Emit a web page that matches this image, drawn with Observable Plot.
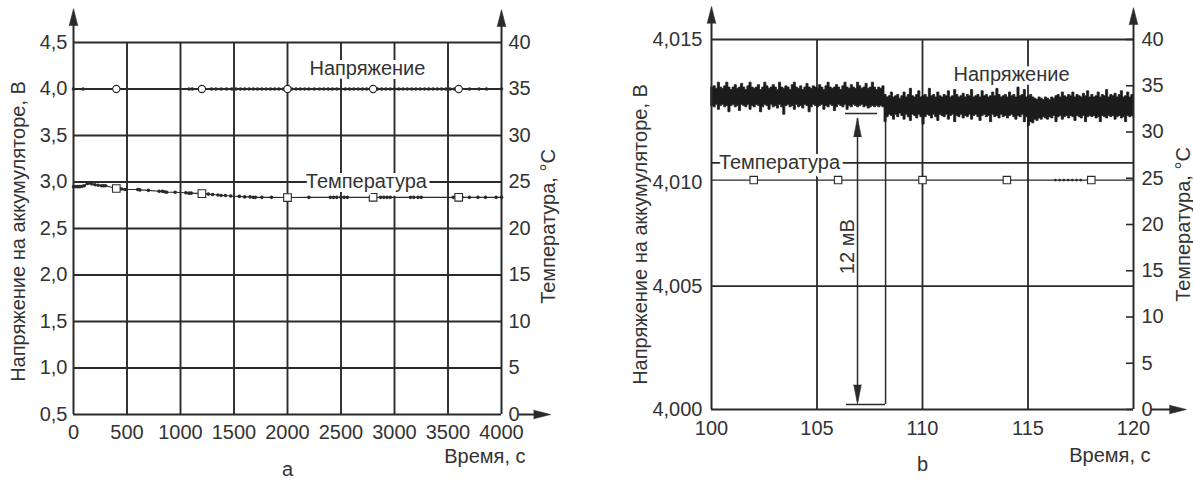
<!DOCTYPE html>
<html><head><meta charset="utf-8">
<script src="https://cdn.jsdelivr.net/npm/d3@7"></script>
<script src="https://cdn.jsdelivr.net/npm/@observablehq/plot@0.6"></script>
<style>
html,body{margin:0;padding:0;background:#fff;}
#wrap{position:relative;width:1193px;height:482px;overflow:hidden;background:#fff;}
#pa{position:absolute;left:0;top:0;}
#pb{position:absolute;left:600px;top:0;}
</style></head>
<body><div id="wrap"><div id="pa"></div><div id="pb"></div></div>
<script>
const INK = "#2a2a2a";
const TXT = "#333";
const FONT = "'Liberation Sans', Arial, Helvetica, sans-serif";

// ================= Panel a =================
const aTimeTicks = [0, 500, 1000, 1500, 2000, 2500, 3000, 3500, 4000];
const aVoltTicks = [0.5, 1.0, 1.5, 2.0, 2.5, 3.0, 3.5, 4.0, 4.5];
const aTempTicks = [0, 5, 10, 15, 20, 25, 30, 35, 40];
// [time s, voltage V]
const aVoltage = [[0,4.0],[90,4.0],[400,4.0],[1080,4.0],[1110,4.0],[1200,4.0],[1290,4.0],[1330,4.0],[1380,4.0],[1430,4.0],
  [1480,4.0],[1520,4.0],[1560,4.0],[1600,4.0],[1640,4.0],[1680,4.0],[1720,4.0],[1760,4.0],[1800,4.0],[1840,4.0],
  [1880,4.0],[1920,4.0],[1960,4.0],[1990,4.0],[2000,4.0],[2010,4.0],[2040,4.0],[2080,4.0],[2120,4.0],[2160,4.0],[2200,4.0],
  [2250,4.0],[2300,4.0],[2340,4.0],[2380,4.0],[2420,4.0],[2460,4.0],[2500,4.0],[2540,4.0],[2580,4.0],[2620,4.0],
  [2660,4.0],[2700,4.0],[2740,4.0],[2780,4.0],[2800,4.0],[2840,4.0],[2880,4.0],[2920,4.0],[2960,4.0],[3000,4.0],
  [3040,4.0],[3080,4.0],[3120,4.0],[3160,4.0],[3200,4.0],[3240,4.0],[3280,4.0],[3320,4.0],[3360,4.0],[3400,4.0],
  [3440,4.0],[3480,4.0],[3520,4.0],[3560,4.0],[3600,4.0],[3700,4.0],[3790,4.0],[3860,4.0],[4000,4.0]];
const aVoltMarkTime = [400, 1200, 2000, 2800, 3600];
const aVoltMark = [4.0, 4.0, 4.0, 4.0, 4.0];
// [time s, temperature °C]
const aTemperature = [[0,24.5],[20,24.5],[40,24.5],[60,24.5],[80,24.55],[100,24.6],[130,24.85],[150,24.9],[170,24.8],
  [200,24.7],[230,24.65],[260,24.6],[280,24.6],[300,24.6],[400,24.3],[430,24.3],[450,24.25],[480,24.2],[600,24.2],
  [620,24.15],[700,24.1],[800,24.0],[830,24.0],[850,23.95],[870,23.9],[950,23.9],[1050,23.85],[1080,23.8],[1100,23.8],
  [1200,23.75],[1260,23.7],[1300,23.65],[1350,23.6],[1380,23.55],[1420,23.55],[1470,23.5],[1550,23.45],[1600,23.4],
  [1650,23.4],[1680,23.35],[1700,23.35],[1760,23.35],[1850,23.35],[2000,23.33],[2200,23.35],[2400,23.35],[2430,23.35],
  [2460,23.35],[2500,23.35],[2530,23.35],[2560,23.35],[2800,23.35],[2870,23.35],[2900,23.35],[2930,23.35],[2960,23.35],
  [3150,23.35],[3180,23.35],[3220,23.35],[3250,23.35],[3550,23.35],[3580,23.35],[3600,23.35],[3630,23.35],[3700,23.35],
  [3780,23.35],[3850,23.35],[3950,23.35],[4000,23.35]];
const aTempMarkTime = [400, 1200, 2000, 2800, 3600];
const aTempMark = [24.3, 23.75, 23.33, 23.35, 23.35];
const aT2V = t => 0.5 + t * 0.1;             // right (°C) axis onto left (V) axis
const aV2T = v => Math.round((v - 0.5) * 10);

const vFmt1 = d => d.toFixed(1).replace(".", ",");

const aVoltRows = aVoltage.map(([t, v]) => ({t, v}));
const aTempRows = aTemperature.map(([t, c]) => ({t, v: aT2V(c)}));
const aVoltMarks = aVoltMarkTime.map((t, i) => ({t, v: aVoltMark[i]}));
const aTempMarks = aTempMarkTime.map((t, i) => ({t, v: aT2V(aTempMark[i])}));

const spike = {x: "x", y: "y", rotate: "rot", length: 17, r: 4.3, shape: "spike", anchor: "start",
  fill: INK, fillOpacity: 1, stroke: INK, strokeWidth: 0.6};
const halo = {stroke: "white", strokeWidth: 8, fill: TXT};
const title = {text: d => d, fill: TXT, textAnchor: "middle", lineAnchor: "middle"};

const plotA = Plot.plot({
  width: 600, height: 482,
  marginLeft: 73, marginRight: 99, marginTop: 42, marginBottom: 68,
  x: {domain: [0, 4000], axis: null},
  y: {domain: [0.5, 4.5], axis: null},
  style: {fontFamily: FONT, fontSize: "20px", color: TXT, background: "white"},
  marks: [
    Plot.gridX(aTimeTicks.slice(1, -1), {stroke: INK, strokeOpacity: 1, strokeWidth: 1.9}),
    Plot.gridY(aVoltTicks.slice(1), {stroke: INK, strokeOpacity: 1, strokeWidth: 1.9}),
    // data
    Plot.line(aTempRows, {x: "t", y: "v", stroke: INK, strokeWidth: 1.1}),
    Plot.dot(aTempRows, {x: "t", y: "v", r: 1.8, fill: INK, stroke: null}),
    Plot.line(aVoltRows, {x: "t", y: "v", stroke: INK, strokeWidth: 1.1}),
    Plot.dot(aVoltRows, {x: "t", y: "v", r: 1.8, fill: INK, stroke: null}),
    Plot.dot(aVoltMarks, {x: "t", y: "v", r: 3.6, fill: "white", stroke: INK, strokeWidth: 1.1}),
    Plot.dot(aTempMarks, {x: "t", y: "v", symbol: "square", r: 4.3, fill: "white", stroke: INK, strokeWidth: 1.1}),
    // series labels
    Plot.text([{x: 2747, y: 4.22, s: "Напряжение"}], {x: "x", y: "y", text: "s", ...halo}),
    Plot.text([{x: 2737, y: 3.0, s: "Температура"}], {x: "x", y: "y", text: "s", ...halo}),
    // axes lines with arrows
    Plot.ruleX([0, 4000], {y1: 0.5, y2: 4.69, stroke: INK, strokeWidth: 2}),
    Plot.ruleY([0.5], {x1: 0, x2: 4000, stroke: INK, strokeWidth: 2}),
    Plot.ruleY([0.5], {x1: 4165, x2: 4310, stroke: INK, strokeWidth: 2}),
    Plot.vector([{x: 0, y: 4.68, rot: 0}, {x: 4000, y: 4.67, rot: 0}, {x: 4300, y: 0.5, rot: 90}], spike),
    // ticks
    Plot.axisX(aTimeTicks, {anchor: "bottom", tickSize: 0, tickPadding: 10, tickFormat: d => String(d), label: null}),
    Plot.axisY(aVoltTicks, {anchor: "left", tickSize: 0, tickPadding: 6, tickFormat: vFmt1, label: null}),
    Plot.axisY(aTempTicks.map(aT2V), {anchor: "right", tickSize: 0, tickPadding: 7, tickFormat: v => String(aV2T(v)), label: null}),
    // titles
    Plot.text(["Напряжение на аккумуляторе, В"], {...title, frameAnchor: "left", dx: -55, dy: 3, rotate: -90}),
    Plot.text(["Температура, °С"], {...title, frameAnchor: "right", dx: 47, dy: -2, rotate: -90}),
    Plot.text(["Время, с"], {...title, frameAnchor: "bottom-right", dx: 24, dy: 42, textAnchor: "end"}),
    Plot.text(["a"], {...title, frameAnchor: "bottom", dy: 55})
  ]
});
document.getElementById("pa").append(plotA);

// ================= Panel b =================
const bTimeTicks = [100, 105, 110, 115, 120];
const bVoltGrid = [4.000, 4.005, 4.010, 4.015];
const bVoltTickLabels = ["4,000", "4,005", "4,010", "4,015"];
const bVoltLabelAt = [4.000, 4.005, 4.0092, 4.015]; // where the labels are printed in the source
const bTempTicks = [0, 5, 10, 15, 20, 25, 30, 35, 40];
const bVoltStart = 100.0, bVoltStep = 0.1;      // 0.1 s bins of the voltage record
// upper and lower envelope of the voltage in each bin, mV above 4,000 V
const bVoltHigh_mV = [
  13.05,13.1,13.0,13.25,13.05,13.0,13.1,13.25,13.05,12.95,
  13.05,13.15,13.0,13.05,13.2,13.05,12.95,13.1,13.25,13.05,
  13.0,13.05,13.15,12.95,13.05,13.25,13.1,13.0,13.05,13.15,
  13.05,12.95,13.25,13.05,13.0,13.1,13.05,12.95,13.15,13.25,
  13.05,13.0,13.1,12.95,13.05,13.2,13.05,13.0,13.1,13.05,
  13.0,13.15,13.05,12.95,13.1,13.25,13.05,13.0,13.05,13.15,
  13.05,12.95,13.1,13.25,13.05,13.0,13.15,13.05,13.0,13.25,
  13.1,13.0,13.05,13.2,13.0,13.05,13.25,13.05,12.95,13.05,
  13.0,13.1,12.75,12.65,12.7,12.85,12.65,12.7,12.75,12.6,
  12.7,12.85,12.65,12.75,13.0,12.7,12.65,12.75,12.9,12.65,
  12.7,12.75,12.65,13.0,12.7,12.75,12.65,12.85,12.7,12.65,
  12.75,12.7,12.9,12.65,12.7,12.95,12.75,12.65,12.7,12.8,
  12.65,12.75,12.7,12.95,12.65,12.7,12.75,12.65,12.9,12.7,
  12.75,12.65,12.7,12.85,12.7,13.0,12.75,12.65,12.7,12.75,
  12.65,12.85,12.7,12.75,12.65,13.05,12.7,12.75,12.95,12.65,
  12.7,12.75,12.65,12.6,12.55,12.65,12.6,12.55,12.65,12.6,
  12.55,12.65,12.6,12.7,12.75,12.65,12.85,12.7,12.65,12.75,
  12.7,12.85,12.65,12.75,12.7,12.65,12.8,12.7,12.9,12.65,
  12.75,12.65,12.7,12.85,12.65,12.75,12.7,12.95,12.65,12.75,
  12.7,12.8,12.65,12.75,12.9,12.65,12.7,12.85,12.65,12.75,
  12.7];
const bVoltLow_mV = [
  12.3,12.25,12.35,12.15,12.3,12.35,12.25,12.3,12.05,12.3,
  12.35,12.25,12.3,12.1,12.35,12.3,12.25,12.35,12.15,12.3,
  12.25,12.35,12.3,12.05,12.25,12.35,12.3,12.15,12.35,12.25,
  12.3,12.2,12.35,12.25,11.95,12.3,12.35,12.25,12.3,12.15,
  12.35,12.25,12.3,12.2,12.35,12.3,12.05,12.25,12.35,12.3,
  12.25,12.3,12.35,12.15,12.3,12.25,12.35,12.3,12.1,12.25,
  12.35,12.3,12.25,12.35,12.15,12.3,12.25,12.35,12.3,12.25,
  12.3,12.35,12.25,12.3,12.2,12.25,12.3,12.25,12.3,12.25,
  12.3,12.25,11.65,11.85,11.95,11.9,11.75,11.95,11.85,12.0,
  11.9,11.75,11.95,11.85,11.7,11.95,11.9,11.8,11.95,11.85,
  11.55,11.85,11.95,11.9,11.8,11.95,11.85,11.7,11.95,11.9,
  11.85,11.95,11.75,11.9,11.95,11.65,11.9,11.85,11.95,11.8,
  11.9,11.85,11.95,11.75,11.9,11.95,11.85,11.7,11.9,11.95,
  11.85,11.9,11.65,11.95,11.85,11.9,11.8,11.95,11.85,11.9,
  11.8,11.9,11.95,11.85,11.75,11.9,11.85,11.95,11.65,11.85,
  11.5,11.65,11.6,11.75,11.7,11.8,11.75,11.85,11.8,11.75,
  11.85,11.8,11.9,11.65,11.85,11.9,11.75,11.85,11.9,11.8,
  11.9,11.85,11.7,11.9,11.85,11.8,11.9,11.65,11.85,11.9,
  11.85,11.9,11.8,11.85,11.65,11.9,11.85,11.8,11.9,11.85,
  11.9,11.75,11.85,11.9,11.8,11.85,11.65,11.9,11.85,11.9,
  11.85];
const bTempTime = [100, 102, 106, 110, 114, 116.3, 116.5, 116.7, 116.9, 117.1, 117.3, 117.5, 118, 120];
const bTemp =     [24.8, 24.8, 24.8, 24.8, 24.8, 24.8, 24.8, 24.8, 24.8, 24.8, 24.8, 24.8, 24.8, 24.8];
const bTempMarkTime = [102, 106, 110, 114, 118];
const bTempMark = [24.8, 24.8, 24.8, 24.8, 24.8];
const bT2V = t => 4.000 + t * 0.015 / 40;       // right (°C) axis onto left (V) axis
const bV2T = v => Math.round((v - 4.000) * 40 / 0.015);
const mV = m => 4.000 + m / 1000;

const bVoltRows = bVoltHigh_mV.map((m, i) => ({t: bVoltStart + i * bVoltStep, hi: mV(m), lo: mV(bVoltLow_mV[i])}));
const bTempRows = bTempTime.map((t, i) => ({t, v: bT2V(bTemp[i])}));
const bTempMarks = bTempMarkTime.map((t, i) => ({t, v: bT2V(bTempMark[i])}));
const bLabelRows = bVoltLabelAt.map((v, i) => ({v, s: bVoltTickLabels[i]}));

const plotB = Plot.plot({
  width: 593, height: 482,
  marginLeft: 111, marginRight: 60, marginTop: 39, marginBottom: 73,
  x: {domain: [100, 120], axis: null},
  y: {domain: [4.000, 4.015], axis: null},
  style: {fontFamily: FONT, fontSize: "20px", color: TXT, background: "white"},
  marks: [
    Plot.gridX([105, 110, 115], {stroke: INK, strokeOpacity: 1, strokeWidth: 1.8}),
    Plot.gridY(bVoltGrid.slice(1), {stroke: INK, strokeOpacity: 1, strokeWidth: 1.8}),
    // temperature
    Plot.line(bTempRows, {x: "t", y: "v", stroke: INK, strokeWidth: 1.1}),
    Plot.dot(bTempRows.slice(5, 12), {x: "t", y: "v", r: 1.3, fill: INK, stroke: null}),
    Plot.dot(bTempMarks, {x: "t", y: "v", symbol: "square", r: 4.2, fill: "white", stroke: INK, strokeWidth: 1.1}),
    // voltage (dense record drawn as its per-bin envelope)
    Plot.areaY(bVoltRows, {x: "t", y1: "lo", y2: "hi", curve: "step-after", fill: "#1c1c1c", stroke: "#1c1c1c", strokeWidth: 0.8}),
    // series labels
    Plot.text([{x: 114.22, y: mV(13.58), s: "Напряжение"}], {x: "x", y: "y", text: "s", ...halo}),
    Plot.text([{x: 103.22, y: 4.010, s: "Температура"}], {x: "x", y: "y", text: "s", ...halo}),
    // 12 mV annotation
    Plot.ruleX([106.92], {y1: mV(0.3), y2: mV(11.8), stroke: INK, strokeWidth: 1.5}),
    Plot.vector([{x: 106.92, y: mV(11.05), rot: 0}, {x: 106.92, y: mV(1.0), rot: 180}],
      {...spike, length: 19, r: 3.8}),
    Plot.ruleY([mV(12.0)], {x1: 106.35, x2: 107.87, stroke: INK, strokeWidth: 1.5}),
    Plot.ruleY([mV(0.2)], {x1: 106.4, x2: 108.25, stroke: INK, strokeWidth: 1.5}),
    Plot.ruleX([108.25], {y1: mV(0.2), y2: mV(11.9), stroke: INK, strokeWidth: 1.5}),
    Plot.text([{x: 106.45, y: mV(6.6), s: "12 мВ"}], {x: "x", y: "y", text: "s", rotate: -90, fill: TXT}),
    // axes lines with arrows
    Plot.ruleX([100, 120], {y1: 4.000, y2: 4.01567, stroke: INK, strokeWidth: 2}),
    Plot.ruleY([4.000], {x1: 100, x2: 120, stroke: INK, strokeWidth: 2}),
    Plot.ruleY([4.000], {x1: 120.85, x2: 121.75, stroke: INK, strokeWidth: 2}),
    Plot.vector([{x: 100, y: 4.01565, rot: 0}, {x: 120, y: 4.01560, rot: 0}, {x: 121.7, y: 4.000, rot: 90}], spike),
    // inward ticks on the temperature axis
    Plot.ruleY(bTempTicks.map(bT2V), {x1: 119.67, x2: 120, stroke: INK, strokeWidth: 1.6}),
    // tick labels
    Plot.axisX(bTimeTicks, {anchor: "bottom", tickSize: 0, tickPadding: 11, tickFormat: d => String(d), label: null}),
    Plot.text(bLabelRows, {x: 100, y: "v", text: "s", textAnchor: "end", dx: -9, fill: TXT}),
    Plot.axisY(bTempTicks.map(bT2V), {anchor: "right", tickSize: 0, tickPadding: 8, tickFormat: v => String(bV2T(v)), label: null}),
    // titles
    Plot.text(["Напряжение на аккумуляторе, В"], {...title, frameAnchor: "left", dx: -71, dy: 10, rotate: -90}),
    Plot.text(["Температура, °С"], {...title, frameAnchor: "right", dx: 50, rotate: -90}),
    Plot.text(["Время, с"], {...title, frameAnchor: "bottom-right", dx: 17, dy: 46, textAnchor: "end"}),
    Plot.text(["b"], {...title, frameAnchor: "bottom", dy: 55})
  ]
});
document.getElementById("pb").append(plotB);
</script>
</body></html>
